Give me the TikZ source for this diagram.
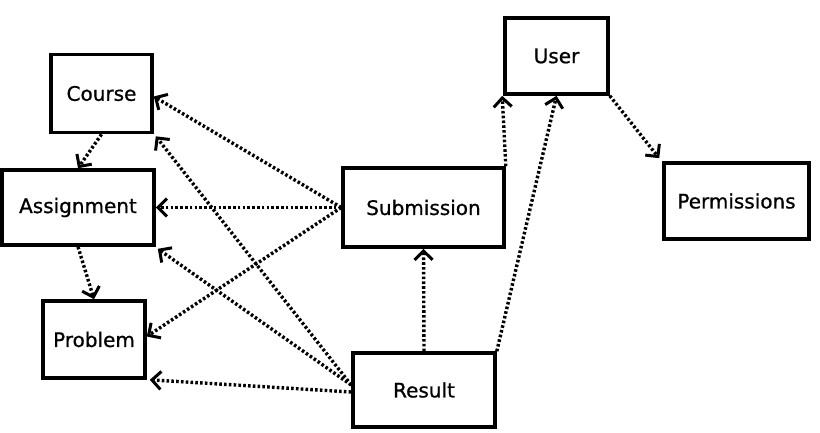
\documentclass[tikz,border=0pt]{standalone}
\usepackage{fontspec}
\setmainfont{DejaVu Sans}
\newfontfamily\boxfont[FakeBold=0.8]{DejaVu Sans}
\usetikzlibrary{arrows.meta,calc}
\begin{document}
\begin{tikzpicture}[x=1pt,y=-1pt,
  box/.style={draw=black,line width=3.6pt,rectangle,inner sep=0pt,
    font=\boxfont\fontsize{20}{24}\selectfont,fill=white},
  link/.style={line width=3.4pt,dash pattern=on 2.6pt off 2.2pt,
    -{Straight Barb[length=9pt,width=18pt,line width=3pt]}}]
\useasboundingbox (0,0) rectangle (820,432);
\node[box,minimum width=101pt,minimum height=78pt] (course) at (101.5,93.5) {Course};
\node[box,minimum width=152pt,minimum height=75pt] (assign) at (78,207.5) {Assignment};
\node[box,minimum width=102pt,minimum height=77pt] (problem) at (94,339.5) {Problem};
\node[box,minimum width=161pt,minimum height=79pt] (sub) at (423.5,207.5) {Submission};
\node[box,minimum width=103pt,minimum height=76pt] (user) at (556.5,56) {User};
\node[box,minimum width=145pt,minimum height=76pt] (perm) at (736.5,201) {Permissions};
\node[box,minimum width=142pt,minimum height=74pt] (result) at (424,390) {Result};

\draw[link] (course.south) -- (assign.north);
\draw[link] (assign.south) -- (problem.north);
\draw[link] (sub.west) -- ([yshift=-3pt]course.east);
\draw[link] (sub.west) -- (assign.east);
\draw[link] (sub.west) -- ([yshift=3pt]problem.east);
\draw[link] ([yshift=5pt]result.west) -- ([xshift=2pt,yshift=-2pt]course.south east);
\draw[link] ([yshift=5pt]result.west) -- ([xshift=2pt,yshift=-2pt]assign.south east);
\draw[link] ([yshift=-2pt]result.west) -- ([xshift=3pt]problem.south east);
\draw[link] (result.north) -- (sub.south);
\draw[link] (result.north east) -- (user.south);
\draw[link] (sub.north east) -- ([xshift=-1pt]user.south west);
\draw[link] (user.south east) -- ([xshift=-3pt,yshift=3pt]perm.north west);
\end{tikzpicture}
\end{document}
